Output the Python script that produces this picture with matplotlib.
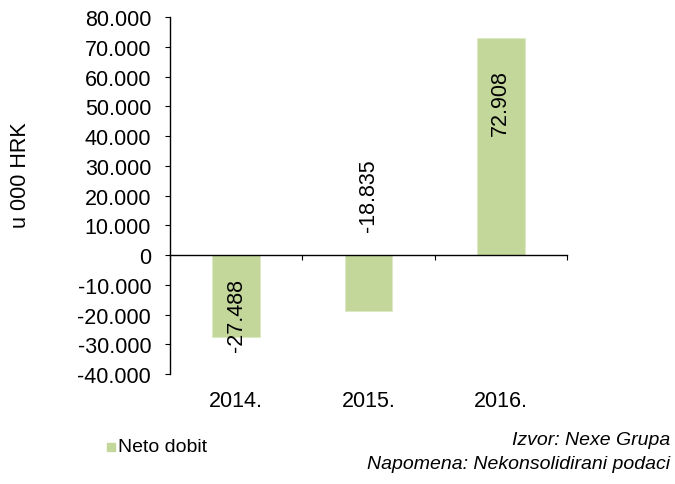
import matplotlib.pyplot as plt
import matplotlib.transforms as mtransforms

years = ["2014.", "2015.", "2016."]
neto_dobit = [-27488, -18835, 72908]
value_labels = ["-27.488", "-18.835", "72.908"]
yticks = list(range(-40000, 80001, 10000))
ytick_labels = ["-40.000", "-30.000", "-20.000", "-10.000", "0", "10.000", "20.000",
                "30.000", "40.000", "50.000", "60.000", "70.000", "80.000"]

plt.rcParams['font.family'] = ['Liberation Sans', 'DejaVu Sans']
green = "#C4D79B"
fs = 15.5

fig = plt.figure(figsize=(6.75, 4.85), dpi=100)
ax = fig.add_axes([0.252, 0.2268, 0.588, 0.736])

x = list(range(len(years)))
ax.bar(x, neto_dobit, width=0.36, color=green, edgecolor="#dde8c4", linewidth=0.6, zorder=2)

ax.set_xlim(-0.5, 2.5)
ax.set_ylim(-40000, 80000)
ax.set_yticks(yticks)
ax.set_yticklabels(ytick_labels, fontsize=fs)
ax.tick_params(axis='y', direction='out', length=3.6, width=0.8, pad=10)

# x axis line at zero with ticks between categories
ax.spines['top'].set_visible(False)
ax.spines['right'].set_visible(False)
ax.spines['bottom'].set_position(('data', 0))
ax.set_xticks([-0.5, 0.5, 1.5, 2.5])
ax.set_xticklabels([])
ax.tick_params(axis='x', direction='out', length=3.6, width=0.8)
for s in ['left', 'bottom']:
    ax.spines[s].set_linewidth(1.0)

trans = mtransforms.blended_transform_factory(ax.transData, ax.transAxes)
for xi, yr in zip(x, years):
    ax.text(xi, -0.075, yr, transform=trans, ha='center', va='center', fontsize=fs)

# data labels (pixel offsets match the original placement)
ax.annotate(value_labels[0], (0, neto_dobit[0]), xytext=(0, -14), textcoords='offset pixels',
            rotation=90, ha='center', va='bottom', fontsize=fs)
ax.annotate(value_labels[1], (1, 0), xytext=(0, 24), textcoords='offset pixels',
            rotation=90, ha='center', va='bottom', fontsize=fs)
ax.annotate(value_labels[2], (2, neto_dobit[2]), xytext=(0, -31), textcoords='offset pixels',
            rotation=90, ha='center', va='top', fontsize=fs)

fig.text(21 / 675, 1 - 175 / 485, "u 000 HRK", fontsize=fs, rotation=90,
         ha='center', va='center')

# legend and footnote
fig.patches.append(plt.Rectangle((107 / 675, 1 - 452 / 485), 8 / 675, 8 / 485,
                                 transform=fig.transFigure, color=green, figure=fig))
fig.text(118 / 675, 1 - 448 / 485, "Neto dobit", fontsize=14, va='center', ha='left')
fig.text(670 / 675, 1 - 441 / 485, "Izvor: Nexe Grupa", fontsize=14, style='italic',
         va='center', ha='right')
fig.text(670 / 675, 1 - 465 / 485, "Napomena: Nekonsolidirani podaci", fontsize=14,
         style='italic', va='center', ha='right')

fig.savefig("out.png", dpi=100)
